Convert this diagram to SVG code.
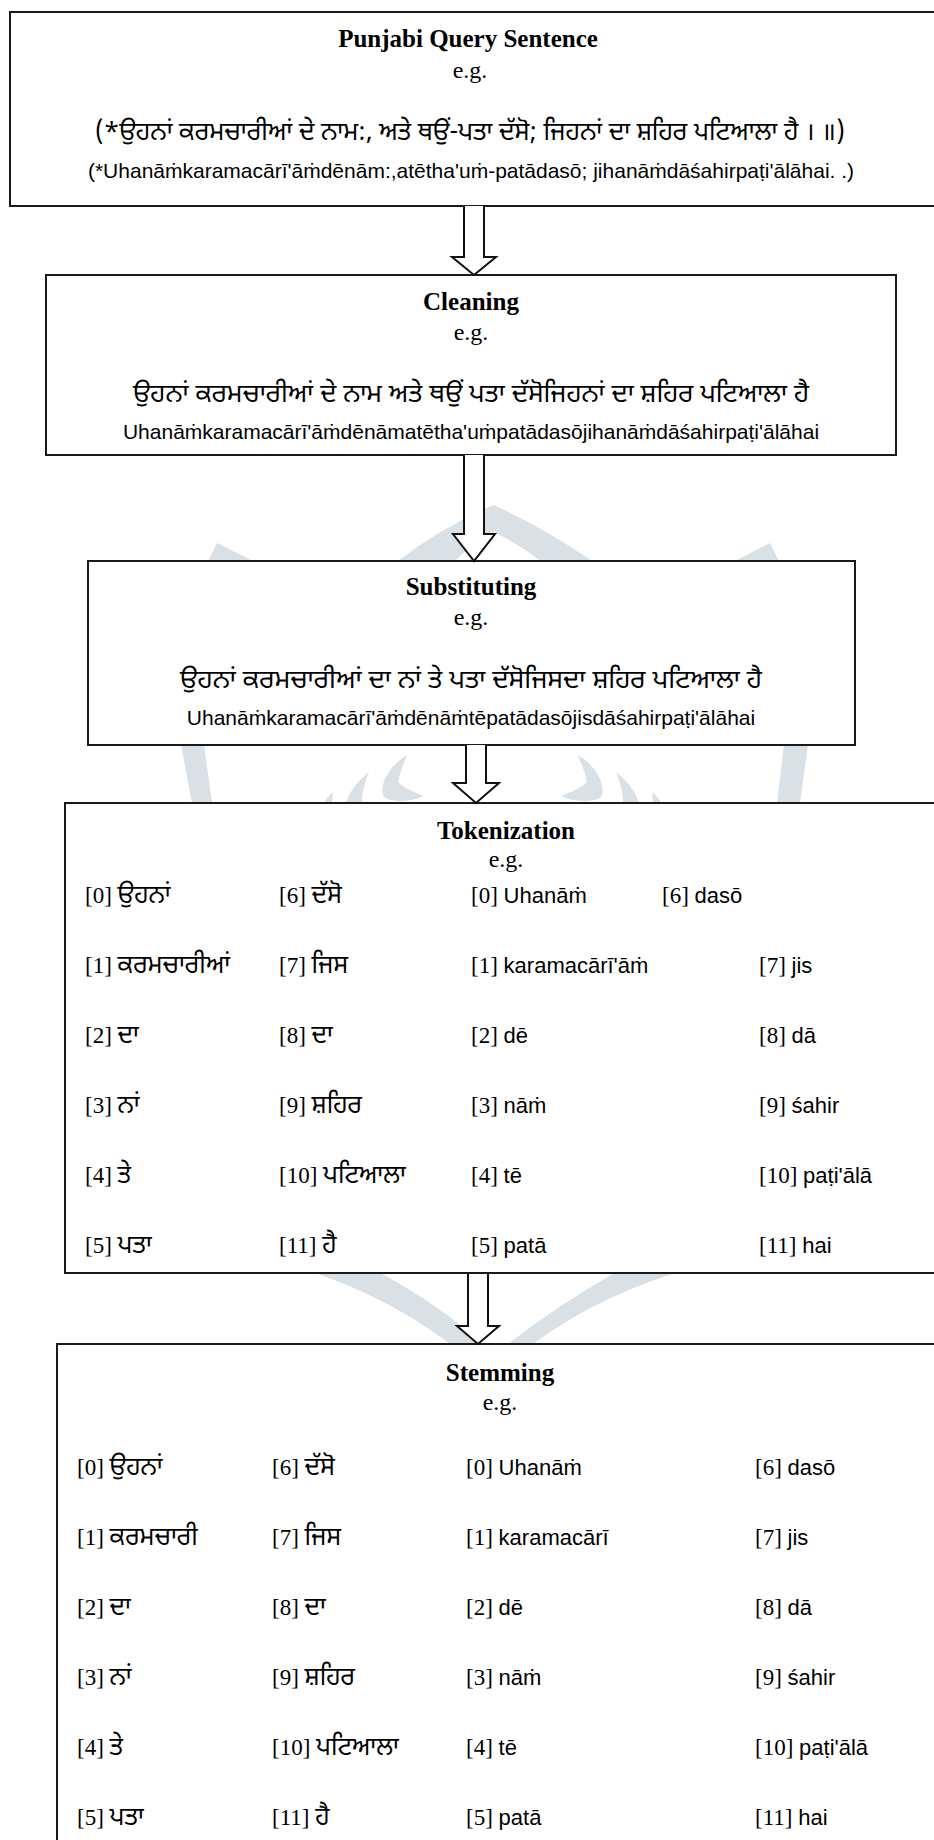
<svg xmlns="http://www.w3.org/2000/svg" width="934" height="1840" viewBox="0 0 934 1840">
<style>
.box{fill:#fff;stroke:#1a1a1a;stroke-width:2}
.arr{fill:#fff;stroke:#111;stroke-width:2;stroke-linejoin:miter}
.wm{fill:#d9e1e6;stroke:none}
.t{font-family:'Liberation Serif','Times New Roman',serif;font-weight:bold;font-size:25px;text-anchor:middle;fill:#000}
.eg{font-family:'Liberation Serif','Times New Roman',serif;font-size:24px;text-anchor:middle;fill:#000}
.pa{font-family:'Noto Sans Gurmukhi','Lohit Gurmukhi','Raavi','FreeSans','Liberation Sans',sans-serif;font-size:25px;text-anchor:middle;fill:#000}
.ro{font-family:'Liberation Sans',Arial,sans-serif;font-size:21px;text-anchor:middle;fill:#000}
.row{font-size:22px;fill:#000}
.n{font-family:'Liberation Serif','Times New Roman',serif;font-size:23px}
.g{font-family:'Noto Sans Gurmukhi','Lohit Gurmukhi','Raavi','FreeSans','Liberation Sans',sans-serif;font-size:25px}
.r{font-family:'Liberation Sans',Arial,sans-serif}
</style>
<rect x="0" y="0" width="934" height="1840" fill="#fff"/>
<g id="watermark">
<path class="wm" d="M398,561 Q440,528 494,505 Q548,530 592,561 L541,561 Q520,545 494,532 Q470,545 455,561 Z"/>
<path class="wm" d="M208,561 L217,543 L253,561 Z"/>
<path class="wm" d="M735,561 L770,543 L779,561 Z"/>
<path class="wm" d="M181,745 L204,745 L212,803 L192,803 Z"/>
<path class="wm" d="M784,745 L808,745 L800,803 L777,803 Z"/>
<path class="wm" d="M407,755 C390,765 378,785 384,797 C392,803 410,802 424,796 C414,792 404,788 398,782 C400,772 404,763 407,755 Z"/>
<path class="wm" d="M369,772 C356,782 348,795 346,803 L362,803 C362,792 365,782 369,772 Z"/>
<path class="wm" d="M333,792 C328,796 325,800 324,803 L332,803 C332,799 333,796 333,792 Z"/>
<path class="wm" d="M578,755 C595,765 607,785 601,797 C593,803 575,802 561,796 C571,792 581,788 587,782 C585,772 581,763 578,755 Z"/>
<path class="wm" d="M616,772 C629,782 637,795 639,803 L623,803 C623,792 620,782 616,772 Z"/>
<path class="wm" d="M652,792 C657,796 660,800 661,803 L653,803 C653,799 652,796 652,792 Z"/>
<path class="wm" d="M318,1274 L382,1274 Q440,1305 482,1344 L450,1344 Q392,1300 318,1274 Z"/>
<path class="wm" d="M672,1274 L613,1274 Q558,1305 508,1344 L533,1344 Q592,1300 672,1274 Z"/>
</g>
<g id="node-query">
<rect class="box" x="10" y="12" width="940" height="194"/>
<text class="t" x="468" y="47">Punjabi Query Sentence</text>
<text class="eg" x="470" y="78">e.g.</text>
<text class="pa" x="470" y="140" textLength="750" lengthAdjust="spacingAndGlyphs">(*ਉਹਨਾਂ ਕਰਮਚਾਰੀਆਂ ਦੇ ਨਾਮ:, ਅਤੇ ਥਉਂ-ਪਤਾ ਦੱਸੋ; ਜਿਹਨਾਂ ਦਾ ਸ਼ਹਿਰ ਪਟਿਆਲਾ ਹੈ । ॥)</text>
<text class="ro" x="471" y="178">(*Uhanāṁkaramacārī'āṁdēnām:,atētha'uṁ-patādasō; jihanāṁdāśahirpaṭi'ālāhai. .)</text>
</g>
<g id="node-cleaning">
<rect class="box" x="46" y="275" width="850" height="180"/>
<text class="t" x="471" y="310">Cleaning</text>
<text class="eg" x="471" y="340">e.g.</text>
<text class="pa" x="471" y="402" textLength="676" lengthAdjust="spacingAndGlyphs">ਉਹਨਾਂ ਕਰਮਚਾਰੀਆਂ ਦੇ ਨਾਮ ਅਤੇ ਥਉਂ ਪਤਾ ਦੱਸੋਜਿਹਨਾਂ ਦਾ ਸ਼ਹਿਰ ਪਟਿਆਲਾ ਹੈ</text>
<text class="ro" x="471" y="439">Uhanāṁkaramacārī'āṁdēnāmatētha'uṁpatādasōjihanāṁdāśahirpaṭi'ālāhai</text>
</g>
<g id="node-substituting">
<rect class="box" x="88" y="561" width="767" height="184"/>
<text class="t" x="471" y="595">Substituting</text>
<text class="eg" x="471" y="625">e.g.</text>
<text class="pa" x="471" y="688" textLength="582" lengthAdjust="spacingAndGlyphs">ਉਹਨਾਂ ਕਰਮਚਾਰੀਆਂ ਦਾ ਨਾਂ ਤੇ ਪਤਾ ਦੱਸੋਜਿਸਦਾ ਸ਼ਹਿਰ ਪਟਿਆਲਾ ਹੈ</text>
<text class="ro" x="471" y="725">Uhanāṁkaramacārī'āṁdēnāṁtēpatādasōjisdāśahirpaṭi'ālāhai</text>
</g>
<g id="node-tokenization">
<rect class="box" x="65" y="803" width="900" height="470"/>
<text class="t" x="506" y="839">Tokenization</text>
<text class="eg" x="506" y="867">e.g.</text>
<g class="row">
<text x="85" y="903"><tspan class="n">[0] </tspan><tspan class="g">ਉਹਨਾਂ</tspan></text>
<text x="279" y="903"><tspan class="n">[6] </tspan><tspan class="g">ਦੱਸੋ</tspan></text>
<text x="471" y="903"><tspan class="n">[0] </tspan><tspan class="r">Uhanāṁ</tspan></text>
<text x="662" y="903"><tspan class="n">[6] </tspan><tspan class="r">dasō</tspan></text>
<text x="85" y="973"><tspan class="n">[1] </tspan><tspan class="g">ਕਰਮਚਾਰੀਆਂ</tspan></text>
<text x="279" y="973"><tspan class="n">[7] </tspan><tspan class="g">ਜਿਸ</tspan></text>
<text x="471" y="973"><tspan class="n">[1] </tspan><tspan class="r">karamacārī'āṁ</tspan></text>
<text x="759" y="973"><tspan class="n">[7] </tspan><tspan class="r">jis</tspan></text>
<text x="85" y="1043"><tspan class="n">[2] </tspan><tspan class="g">ਦਾ</tspan></text>
<text x="279" y="1043"><tspan class="n">[8] </tspan><tspan class="g">ਦਾ</tspan></text>
<text x="471" y="1043"><tspan class="n">[2] </tspan><tspan class="r">dē</tspan></text>
<text x="759" y="1043"><tspan class="n">[8] </tspan><tspan class="r">dā</tspan></text>
<text x="85" y="1113"><tspan class="n">[3] </tspan><tspan class="g">ਨਾਂ</tspan></text>
<text x="279" y="1113"><tspan class="n">[9] </tspan><tspan class="g">ਸ਼ਹਿਰ</tspan></text>
<text x="471" y="1113"><tspan class="n">[3] </tspan><tspan class="r">nāṁ</tspan></text>
<text x="759" y="1113"><tspan class="n">[9] </tspan><tspan class="r">śahir</tspan></text>
<text x="85" y="1183"><tspan class="n">[4] </tspan><tspan class="g">ਤੇ</tspan></text>
<text x="279" y="1183"><tspan class="n">[10] </tspan><tspan class="g">ਪਟਿਆਲਾ</tspan></text>
<text x="471" y="1183"><tspan class="n">[4] </tspan><tspan class="r">tē</tspan></text>
<text x="759" y="1183"><tspan class="n">[10] </tspan><tspan class="r">paṭi'ālā</tspan></text>
<text x="85" y="1253"><tspan class="n">[5] </tspan><tspan class="g">ਪਤਾ</tspan></text>
<text x="279" y="1253"><tspan class="n">[11] </tspan><tspan class="g">ਹੈ</tspan></text>
<text x="471" y="1253"><tspan class="n">[5] </tspan><tspan class="r">patā</tspan></text>
<text x="759" y="1253"><tspan class="n">[11] </tspan><tspan class="r">hai</tspan></text>
</g>
</g>
<g id="node-stemming">
<rect class="box" x="57" y="1344" width="900" height="520"/>
<text class="t" x="500" y="1381">Stemming</text>
<text class="eg" x="500" y="1410">e.g.</text>
<g class="row">
<text x="77" y="1475"><tspan class="n">[0] </tspan><tspan class="g">ਉਹਨਾਂ</tspan></text>
<text x="272" y="1475"><tspan class="n">[6] </tspan><tspan class="g">ਦੱਸੋ</tspan></text>
<text x="466" y="1475"><tspan class="n">[0] </tspan><tspan class="r">Uhanāṁ</tspan></text>
<text x="755" y="1475"><tspan class="n">[6] </tspan><tspan class="r">dasō</tspan></text>
<text x="77" y="1545"><tspan class="n">[1] </tspan><tspan class="g">ਕਰਮਚਾਰੀ</tspan></text>
<text x="272" y="1545"><tspan class="n">[7] </tspan><tspan class="g">ਜਿਸ</tspan></text>
<text x="466" y="1545"><tspan class="n">[1] </tspan><tspan class="r">karamacārī</tspan></text>
<text x="755" y="1545"><tspan class="n">[7] </tspan><tspan class="r">jis</tspan></text>
<text x="77" y="1615"><tspan class="n">[2] </tspan><tspan class="g">ਦਾ</tspan></text>
<text x="272" y="1615"><tspan class="n">[8] </tspan><tspan class="g">ਦਾ</tspan></text>
<text x="466" y="1615"><tspan class="n">[2] </tspan><tspan class="r">dē</tspan></text>
<text x="755" y="1615"><tspan class="n">[8] </tspan><tspan class="r">dā</tspan></text>
<text x="77" y="1685"><tspan class="n">[3] </tspan><tspan class="g">ਨਾਂ</tspan></text>
<text x="272" y="1685"><tspan class="n">[9] </tspan><tspan class="g">ਸ਼ਹਿਰ</tspan></text>
<text x="466" y="1685"><tspan class="n">[3] </tspan><tspan class="r">nāṁ</tspan></text>
<text x="755" y="1685"><tspan class="n">[9] </tspan><tspan class="r">śahir</tspan></text>
<text x="77" y="1755"><tspan class="n">[4] </tspan><tspan class="g">ਤੇ</tspan></text>
<text x="272" y="1755"><tspan class="n">[10] </tspan><tspan class="g">ਪਟਿਆਲਾ</tspan></text>
<text x="466" y="1755"><tspan class="n">[4] </tspan><tspan class="r">tē</tspan></text>
<text x="755" y="1755"><tspan class="n">[10] </tspan><tspan class="r">paṭi'ālā</tspan></text>
<text x="77" y="1825"><tspan class="n">[5] </tspan><tspan class="g">ਪਤਾ</tspan></text>
<text x="272" y="1825"><tspan class="n">[11] </tspan><tspan class="g">ਹੈ</tspan></text>
<text x="466" y="1825"><tspan class="n">[5] </tspan><tspan class="r">patā</tspan></text>
<text x="755" y="1825"><tspan class="n">[11] </tspan><tspan class="r">hai</tspan></text>
</g>
</g>
<g id="connectors">
<path class="arr" d="M464,206 V257 H452 L474,275 L496,257 H484 V206"/>
<path class="arr" d="M464,455 V534 H453 L474,561 L495,534 H484 V455"/>
<path class="arr" d="M466,745 V783 H453 L476,803 L499,783 H486 V745"/>
<path class="arr" d="M468,1274 V1326 H457 L478,1344 L499,1326 H488 V1274"/>
</g>
</svg>
